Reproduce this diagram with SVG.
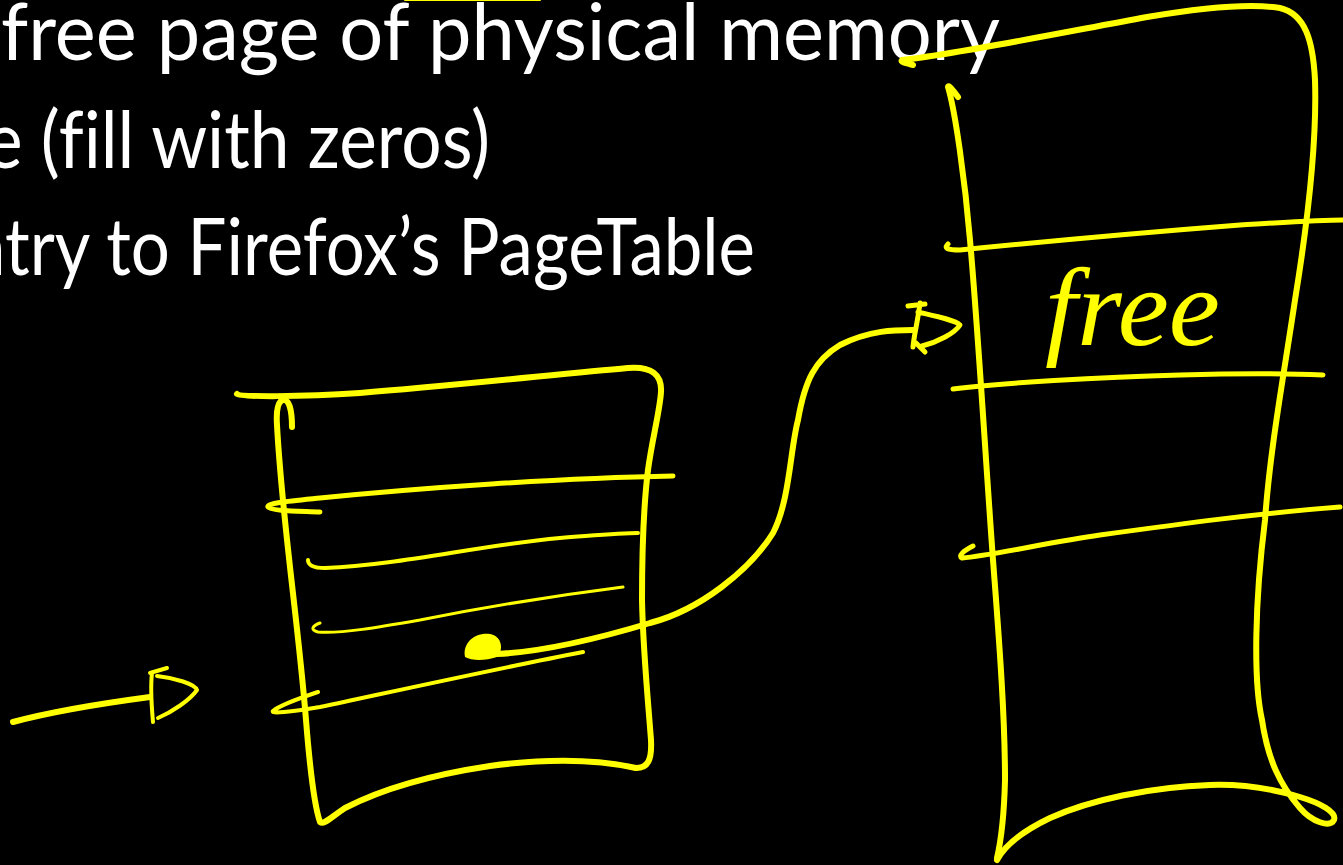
<svg xmlns="http://www.w3.org/2000/svg" width="1343" height="865" viewBox="0 0 1343 865">
  <style>
    .slide { font-family: Lato, "Open Sans", "Liberation Sans", sans-serif; font-size: 80px; fill: #ffffff; font-variant-ligatures: none; font-feature-settings: "liga" 0; }
    .ink { fill: none; stroke: #ffff00; stroke-linecap: round; stroke-linejoin: round; }
    .w6 { stroke-width: 6; }
    .w5 { stroke-width: 5; }
    .w4 { stroke-width: 4; }
    .w3 { stroke-width: 3; }
    .note { font-family: "Liberation Serif", "DejaVu Serif", serif; font-style: italic; font-size: 110px; fill: #ffff00; }
  </style>
  <rect width="1343" height="865" fill="#000000"/>

  <!-- slide bullet text, clipped by the left edge -->
  <g id="slide-text">
    <text class="slide" x="1" y="60" textLength="999" lengthAdjust="spacingAndGlyphs">free page of physical memory</text>
    <text class="slide" x="-15" y="168" textLength="505" lengthAdjust="spacingAndGlyphs">e (fill with zeros)</text>
    <text class="slide" x="-33" y="275" textLength="788" lengthAdjust="spacingAndGlyphs">ntry to Firefox’s PageTable</text>
  </g>

  <!-- stray ink stroke at the top edge -->
  <line class="ink" stroke-width="2" x1="405" y1="0" x2="540" y2="0"/>

  <!-- page table (left box) -->
  <g id="page-table">
    <path class="ink w6" d="M 237,394 C 240,397 300,397 360,393 C 450,386 560,374 628,368 C 652,366 662,375 661,392 C 660,410 652,440 648,470 C 643,510 642,560 642,600 C 643,650 648,700 651,740 C 652,760 648,768 636,768"/>
    <path class="ink w6" d="M 292,427 C 292,410 289,400 284,400 C 278,400 276,410 277,425 C 282,520 298,620 306,720 C 310,770 314,805 320,822 C 324,825 330,818 345,808 C 380,790 430,775 490,766 C 550,758 600,760 636,768"/>
    <path class="ink w5" d="M 320,512 C 300,511 270,511 268,507 C 266,503 290,501 320,498 C 420,488 560,478 673,476"/>
    <path class="ink w4" d="M 308,560 C 308,565 312,568 325,568 C 400,565 480,545 560,538 C 600,535 620,533 638,533"/>
    <path class="ink w3" d="M 320,623 C 312,626 310,630 318,632 C 340,634 380,627 420,620 C 480,608 560,595 623,587"/>
    <path class="ink w4" d="M 318,692 C 300,698 280,705 273,711 C 270,714 290,712 320,707 C 400,690 500,668 583,652"/>
    <path d="M 465,657 C 462,643 475,632 490,634 C 502,636 504,650 497,657 C 485,661 472,661 465,657 Z" fill="#ffff00"/>
  </g>

  <!-- physical memory (right box) -->
  <g id="physical-memory">
    <path class="ink w6" d="M 913,65 C 905,63 900,62 902,60 C 950,55 1050,35 1147,17 C 1200,8 1250,3 1280,8 C 1305,14 1313,40 1315,80 C 1317,140 1308,220 1295,300 C 1283,380 1270,450 1265,520 C 1255,600 1253,680 1262,720 C 1268,760 1280,785 1300,808 C 1312,822 1330,828 1334,820 C 1337,812 1320,803 1300,797 C 1270,788 1240,784 1210,785 C 1150,787 1090,800 1050,818 C 1025,830 1005,845 997,860"/>
    <path class="ink w6" d="M 958,97 C 953,90 948,84 948,87 C 955,110 965,180 970,240 C 978,330 985,450 993,560 C 1000,650 1005,720 1005,780 C 1004,820 1000,845 997,858"/>
    <path class="ink w5" d="M 948,244 C 944,248 946,250 960,250 C 1040,242 1150,232 1240,225 C 1290,222 1320,220 1343,220"/>
    <path class="ink w5" d="M 953,389 C 1000,383 1100,377 1180,375 C 1250,373 1300,374 1323,375"/>
    <path class="ink w5" d="M 973,546 C 963,551 958,556 962,558 C 990,556 1050,542 1100,535 C 1180,524 1260,513 1340,507"/>
    <text class="note" x="1045" y="345" textLength="175" lengthAdjust="spacingAndGlyphs">free</text>
  </g>

  <!-- arrows -->
  <g id="connectors">
    <path class="ink w6" d="M 497,654 C 540,652 600,638 650,623 C 700,610 750,570 773,533 C 790,500 790,450 798,420 C 805,380 815,360 840,345 C 870,330 895,330 913,330"/>
    <path class="ink w5" d="M 920,303 C 918,320 914,335 913,347 M 908,306 L 925,304 M 918,312 C 935,316 955,320 960,325 C 955,333 938,342 922,346 M 916,343 L 925,352"/>
    <path class="ink w6" d="M 13,722 C 50,712 90,705 150,697"/>
    <path class="ink w4" d="M 152,673 C 150,690 152,710 153,722 M 150,673 L 167,668 M 157,676 C 175,678 195,684 197,690 C 190,700 172,712 158,718"/>
  </g>
</svg>
